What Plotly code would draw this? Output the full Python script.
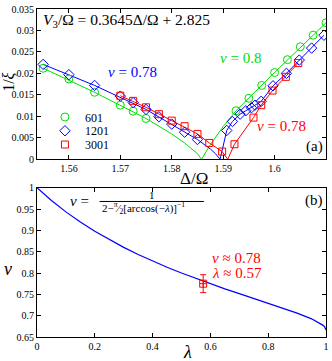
import plotly.graph_objects as go

GREEN = '#00dd00'
BLUE = '#0000ff'
RED = '#ff0000'
FONT = 'Liberation Serif'

# (a) 1/xi against Delta/Omega for three sizes
delta_601 = [1.555, 1.56, 1.565, 1.57, 1.5725, 1.575,
             1.5925, 1.595, 1.5975, 1.6, 1.6025, 1.605, 1.6075, 1.61]
xi_601 = [0.0212, 0.0187, 0.0156, 0.0126, 0.0112, 0.0095,
          0.0113, 0.0142, 0.0172, 0.0202, 0.0232, 0.0262, 0.0289, 0.0318]

delta_1201 = [1.555, 1.56, 1.565, 1.57, 1.5725, 1.575, 1.5775, 1.58, 1.5825, 1.585,
              1.5907, 1.5918, 1.5933, 1.5944, 1.5955, 1.5962,
              1.5974, 1.5997, 1.6023, 1.6048, 1.6072, 1.6096]
xi_1201 = [0.0221, 0.0197, 0.0172, 0.0147, 0.0132, 0.0116, 0.0099, 0.0082, 0.0063, 0.0046,
           0.0067, 0.0088, 0.0105, 0.0113, 0.0120, 0.0126,
           0.0135, 0.0171, 0.0200, 0.0231, 0.0259, 0.0289]

delta_3001 = [1.57, 1.5725, 1.575, 1.5775, 1.58, 1.5825, 1.585, 1.5873, 1.5898,
              1.5922, 1.5959, 1.5974, 1.5996, 1.6022, 1.6046]
xi_3001 = [0.0148, 0.0136, 0.0121, 0.0105, 0.0090, 0.0077, 0.0059, 0.0038, 0.0018,
           0.0035, 0.0097, 0.0126, 0.0160, 0.0192, 0.0224]

# fitted curves
fit_601_left_x = [1.555, 1.565, 1.575, 1.5775, 1.58, 1.5825, 1.585, 1.5858]
fit_601_left_y = [0.0212, 0.0156, 0.0095, 0.0078, 0.0059, 0.0038, 0.0013, 0.0]
fit_601_right_x = [1.5858, 1.5875, 1.59, 1.5925, 1.6, 1.61]
fit_601_right_y = [0.0, 0.0034, 0.0076, 0.0113, 0.0202, 0.0318]

fit_1201_left_x = [1.555, 1.565, 1.575, 1.58, 1.585, 1.5875, 1.5885, 1.5894]
fit_1201_left_y = [0.0221, 0.0172, 0.0116, 0.0082, 0.0046, 0.0024, 0.0013, 0.0]
fit_1201_right_x = [1.5894, 1.5907, 1.5918, 1.5933, 1.5944, 1.5955, 1.5962, 1.5974,
                    1.5997, 1.6023, 1.6048, 1.6072, 1.6096]
fit_1201_right_y = [0.0, 0.0067, 0.0088, 0.0105, 0.0113, 0.0120, 0.0126, 0.0135,
                    0.0171, 0.0200, 0.0231, 0.0259, 0.0289]

fit_3001_left_x = [1.57, 1.575, 1.58, 1.585, 1.5873, 1.5898, 1.5909]
fit_3001_left_y = [0.0148, 0.0121, 0.0090, 0.0059, 0.0038, 0.0018, 0.0]
fit_3001_right_x = [1.5909, 1.5922, 1.5959, 1.5974, 1.5996, 1.6022, 1.6046]
fit_3001_right_y = [0.0, 0.0035, 0.0097, 0.0126, 0.0160, 0.0192, 0.0224]

# (b) nu(lambda) = 1 / (2 - pi/2 [arccos(-lambda)]^-1)
lam = [0, 0.05, 0.1, 0.15, 0.2, 0.25, 0.3, 0.35, 0.4, 0.45, 0.5, 0.55, 0.6,
       0.65, 0.7, 0.75, 0.8, 0.85, 0.9, 0.95, 0.98, 0.99, 0.995, 0.999, 1.0]
nu = [1.0, 0.9701, 0.9434, 0.9195, 0.8980, 0.8783, 0.8602, 0.8436, 0.8281, 0.8136, 0.8,
      0.7871, 0.7748, 0.7630, 0.7516, 0.7404, 0.7293, 0.7180, 0.7061, 0.6926, 0.6822,
      0.6773, 0.6741, 0.6699, 0.6667]
lam_est = [0.575]
nu_est = [0.775]
nu_err = [0.021]

W, H = 332, 361
ML, MR, MT, MB = 37, 4, 3, 24


def paper(x, y):
    return (x - ML) / (W - ML - MR), (H - MB - y) / (H - MT - MB)


fig = go.Figure()

for dx, dy, col in [(fit_601_left_x, fit_601_left_y, GREEN), (fit_601_right_x, fit_601_right_y, GREEN),
                    (fit_1201_left_x, fit_1201_left_y, BLUE), (fit_1201_right_x, fit_1201_right_y, BLUE),
                    (fit_3001_left_x, fit_3001_left_y, RED), (fit_3001_right_x, fit_3001_right_y, RED)]:
    fig.add_trace(go.Scatter(x=dx, y=dy, mode='lines', line=dict(color=col, width=1),
                             showlegend=False, hoverinfo='skip', xaxis='x', yaxis='y'))

fig.add_trace(go.Scatter(x=delta_601, y=xi_601, mode='markers', name='601', legend='legend',
                         marker=dict(symbol='circle-open', size=8, color=GREEN, line=dict(width=1))))
fig.add_trace(go.Scatter(x=delta_1201, y=xi_1201, mode='markers', name='1201', legend='legend2',
                         marker=dict(symbol='diamond-open', size=8, color=BLUE, line=dict(width=1))))
fig.add_trace(go.Scatter(x=delta_3001, y=xi_3001, mode='markers', name='3001', legend='legend3',
                         marker=dict(symbol='square-open', size=7, color=RED, line=dict(width=1))))

fig.add_trace(go.Scatter(x=lam, y=nu, mode='lines', line=dict(color=BLUE, width=1.2),
                         showlegend=False, xaxis='x2', yaxis='y2'))
fig.add_trace(go.Scatter(x=lam_est, y=nu_est, mode='markers', showlegend=False,
                         marker=dict(symbol='square-cross-open', size=7, color=RED, line=dict(width=1)),
                         error_y=dict(type='data', array=nu_err, color=RED, thickness=1, width=3),
                         xaxis='x2', yaxis='y2'))

axis_style = dict(showline=True, linecolor='black', linewidth=1, mirror='ticks', ticks='inside',
                  ticklen=4, tickcolor='black', showgrid=False, zeroline=False,
                  tickfont=dict(family=FONT, size=10, color='black'))


def legend_at(y):
    return dict(x=paper(45, 0)[0], y=paper(0, y)[1], xanchor='left', yanchor='middle',
                bgcolor='rgba(0,0,0,0)', font=dict(family=FONT, size=12, color='black'))


fig.update_layout(
    width=W, height=H,
    margin=dict(l=ML, r=MR, t=MT, b=MB),
    plot_bgcolor='white', paper_bgcolor='white',
    font=dict(family=FONT, color='black'),
    xaxis=dict(domain=[0, 1], range=[1.5538, 1.61], anchor='y',
               tickvals=[1.56, 1.57, 1.58, 1.59, 1.6, 1.61],
               ticktext=['1.56', '1.57', '1.58', '1.59', '1.6', '1.61'], **axis_style),
    yaxis=dict(domain=[paper(0, 156)[1], 1], range=[0, 0.035], anchor='x',
               tickvals=[0, 0.005, 0.01, 0.015, 0.02, 0.025, 0.03, 0.035],
               ticktext=['0', '0.005', '0.01', '0.015', '0.02', '0.025', '0.03', '0.035'], **axis_style),
    xaxis2=dict(domain=[0, 1], range=[0, 1], anchor='y2',
                tickvals=[0, 0.2, 0.4, 0.6, 0.8, 1],
                ticktext=['0', '0.2', '0.4', '0.6', '0.8', '1'], **axis_style),
    yaxis2=dict(domain=[0, paper(0, 185)[1]], range=[0.65, 1], anchor='x2',
                tickvals=[0.65, 0.7, 0.75, 0.8, 0.85, 0.9, 0.95, 1],
                ticktext=['0.65', '0.7', '0.75', '0.8', '0.85', '0.9', '0.95', '1'], **axis_style),
    legend=legend_at(113),
    legend2=legend_at(127),
    legend3=legend_at(141),
    showlegend=True,
)


def label(text, x, y, size, color='black', anchor='center', angle=0):
    px, py = paper(x, y)
    fig.add_annotation(text=text, x=px, y=py, xref='paper', yref='paper', showarrow=False,
                       xanchor=anchor, yanchor='middle', textangle=angle,
                       font=dict(family=FONT, size=size, color=color))


label('<i>V</i><sub>3</sub>/Ω = 0.3645Δ/Ω + 2.825', 41, 15, 15.5, anchor='left')
label('<i>ν</i> = 0.78', 106, 67, 15, BLUE, anchor='left')
label('<i>ν</i> = 0.8', 219, 53, 15, GREEN, anchor='left')
label('<i>ν</i> = 0.78', 257, 122, 15, RED, anchor='left')
label('(a)', 316, 143, 15)
label('(b)', 316, 198, 15)
label('1/<i>ξ</i>', 8, 78, 16, angle=-90)
label('Δ/Ω', 195, 176, 17)
label('<i>ν</i>', 8, 268, 18)
label('<i>λ</i>', 189, 352, 18)
label('<i>ν</i> ≈ 0.78', 211, 257, 15, RED, anchor='left')
label('<i>λ</i> ≈ 0.57', 211, 272, 15, RED, anchor='left')

# formula with a drawn fraction bar
label('<i>ν</i> =', 68, 199, 15, anchor='left')
label('1', 153, 192, 11)
label('2−<sup>π</sup>⁄<sub>2</sub>[arccos(−<i>λ</i>)]<sup>−1</sup>', 100, 206, 11, anchor='left')
x0, y0 = paper(100, 199)
x1, _ = paper(205, 199)
fig.add_shape(type='line', xref='paper', yref='paper', x0=x0, x1=x1, y0=y0, y1=y0,
              line=dict(color='black', width=1))

fig.write_html('out.html', config={'displayModeBar': False},
               post_script="document.body.style.margin='0';")
